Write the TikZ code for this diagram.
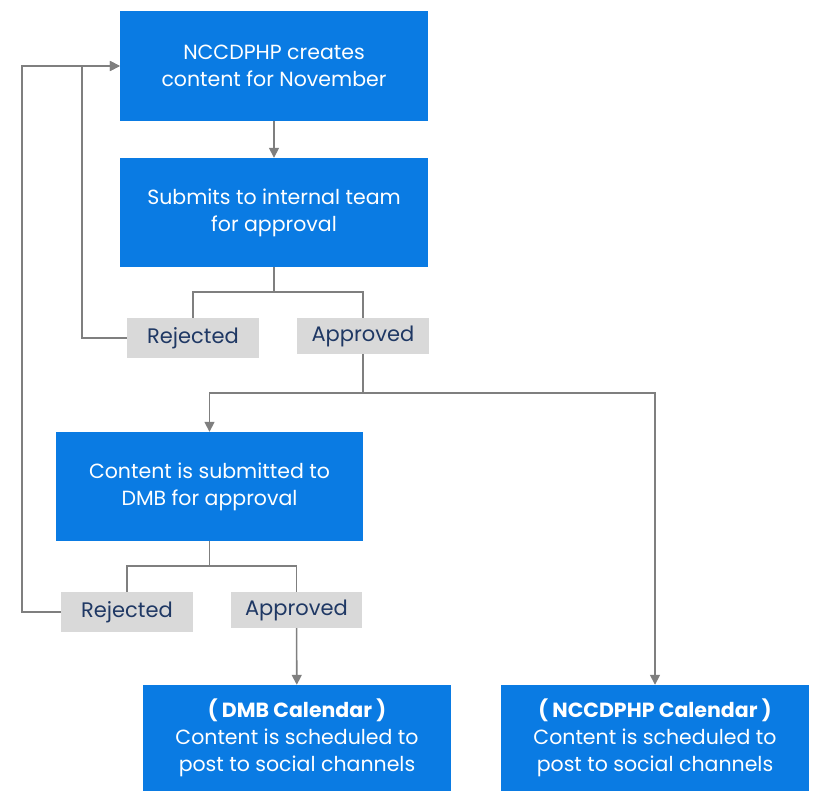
\documentclass[tikz,border=0pt]{standalone}
\usepackage{fontspec}
\setmainfont{Poppins}
\usepackage{tikz}
\usetikzlibrary{arrows.meta,positioning}
\definecolor{boxblue}{HTML}{0A7BE3}
\definecolor{tagray}{HTML}{D9D9D9}
\definecolor{tagtext}{HTML}{1F3864}
\definecolor{linegray}{HTML}{7F7F7F}

\begin{document}
\begin{tikzpicture}[x=1pt,y=-1pt,
                step box/.style={fill=boxblue,text=white,align=center,minimum width=308pt,
                        font=\fontsize{20.5}{27}\selectfont},
                tag/.style={fill=tagray,text=tagtext,minimum width=132pt,font=\fontsize{21}{24}\selectfont},
                wire/.style={draw=linegray,line width=1.6pt},
                go/.style={wire,-{Triangle[length=10pt,width=10pt]}}]
                \useasboundingbox (0,0) rectangle (814,790);
                % boxes
                \node [step box, minimum height=110pt] (create) at (274,66) {NCCDPHP creates\\content for November};
                \node [step box, minimum height=109pt] (internal) at (274,212.5) {Submits to internal team\\for approval};
                \node [tag, minimum height=40pt] (rejA) at (193,338) {Rejected};
                \node [tag, minimum height=36pt] (appA) at (363,336) {Approved};
                \node [step box, minimum width=307pt, minimum height=109pt] (dmb) at (209.5,486.5) {Content is submitted to\\DMB for approval};
                \node [tag, minimum height=40pt] (rejB) at (127,612) {Rejected};
                \node [tag, minimum width=131pt, minimum height=36pt] (appB) at (296.5,610) {Approved};
                \node [step box, minimum height=106pt] (dmbcal) at (297,738) {\textbf{( DMB Calendar )}\\Content is scheduled to\\post to social channels};
                \node [step box, minimum height=106pt] (nccal) at (655,738) {\textbf{( NCCDPHP Calendar )}\\Content is scheduled to\\post to social channels};
                % connectors
                \coordinate (splitA) at (274,292);
                \coordinate (splitB) at (209.5,566);
                \coordinate (fork) at (363,393);
                \draw [go] (create) -- (internal);
                \draw [wire] (internal.south) -- (splitA) -| (rejA.north);
                \draw [wire] (splitA) -| (appA.north);
                \draw [go] (rejA.west) -| (82,66) -- (create.west);
                \draw [wire] (appA.south) -- (fork);
                \draw [go] (fork) -| (dmb.north);
                \draw [go] (fork) -| (nccal.north);
                \draw [wire] (dmb.south) -- (splitB) -| (rejB.north);
                \draw [wire] (splitB) -| (appB.north);
                \draw [go] (rejB.west) -| (22,66) -- (create.west);
                \draw [go] (appB) -- (dmbcal);
\end{tikzpicture}
\end{document}
